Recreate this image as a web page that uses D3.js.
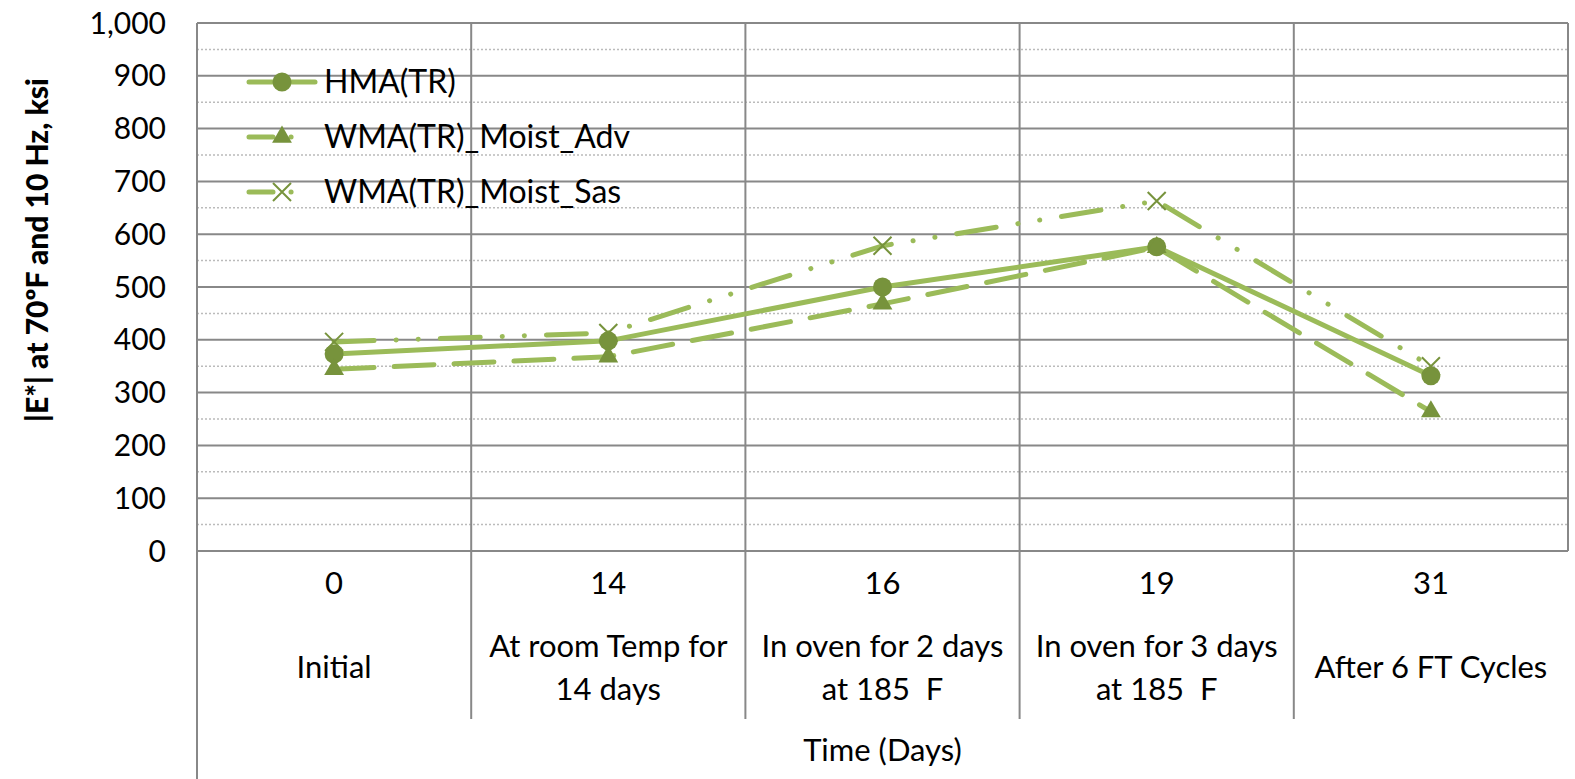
<!DOCTYPE html>
<html>
<head>
<meta charset="utf-8">
<script src="https://cdn.jsdelivr.net/npm/d3@7"></script>
<style>
  body { margin: 0; background: #fff; }
  text { font-family: Lato, "Open Sans", sans-serif; fill: #000; white-space: pre; }
</style>
</head>
<body>
<svg width="1575" height="779"></svg>
<script>
// data
var days = ["0", "14", "16", "19", "31"];
var stages = [["Initial"], ["At room Temp for", "14 days"], ["In oven for 2 days", "at 185  F"],
  ["In oven for 3 days", "at 185  F"], ["After 6 FT Cycles"]];
var hma = [373, 398, 500, 576, 332];
var adv = [344, 368, 468, 575, 264];
var sas = [396, 413, 578, 663, 350];
var seriesNames = ["HMA(TR)", "WMA(TR)_Moist_Adv", "WMA(TR)_Moist_Sas"];
var yTicks = d3.range(0, 1001, 100);

var svg = d3.select("svg"),
  width = +svg.attr("width"),
  height = +svg.attr("height");

var pLeft = 197, pRight = 1568, pTop = 23, pBottom = 551;
var lineCol = "#9bbb59", markCol = "#77933c", gridCol = "#888";

var x = d3.scaleBand().domain(d3.range(days.length)).range([pLeft, pRight]);
var y = d3.scaleLinear().domain([0, 1000]).range([pBottom, pTop]);

// minor dotted grid at the 50s
svg.append("g").selectAll("line")
  .data(d3.range(50, 1000, 100))
  .enter().append("line")
  .attr("x1", pLeft).attr("x2", pRight)
  .attr("y1", d => y(d)).attr("y2", d => y(d))
  .attr("stroke", "#bbb").attr("stroke-width", 1.5).attr("stroke-dasharray", "2,2");

// major grid
svg.append("g").selectAll("line")
  .data(yTicks)
  .enter().append("line")
  .attr("x1", pLeft).attr("x2", pRight)
  .attr("y1", d => y(d)).attr("y2", d => y(d))
  .attr("stroke", gridCol).attr("stroke-width", 2);

// vertical lines between categories (run down through the label table)
var bounds = d3.range(days.length + 1).map(i => pLeft + i * x.bandwidth());
svg.append("g").selectAll("line")
  .data(bounds)
  .enter().append("line")
  .attr("x1", d => d).attr("x2", d => d)
  .attr("y1", pTop)
  .attr("y2", (d, i) => i == 0 ? height : (i == days.length ? pBottom : 719))
  .attr("stroke", gridCol).attr("stroke-width", 2);

// y axis labels
svg.append("g").selectAll("text")
  .data(yTicks)
  .enter().append("text")
  .attr("x", 166).attr("y", d => y(d))
  .attr("dy", "0.35em")
  .attr("text-anchor", "end")
  .style("font-size", "30px")
  .text(d => d3.format(",")(d));

svg.append("text")
  .attr("transform", "translate(48,250) rotate(-90)")
  .attr("text-anchor", "middle")
  .style("font-size", "30px").style("font-weight", "900")
  .text("|E*| at 70ºF and 10 Hz, ksi");

// category labels
var cat = svg.append("g").selectAll("g")
  .data(days)
  .enter().append("g")
  .attr("transform", (d, i) => "translate(" + (x(i) + x.bandwidth() / 2) + ",0)");
cat.append("text")
  .attr("y", 583).attr("dy", "0.35em")
  .attr("text-anchor", "middle").style("font-size", "31px")
  .text(d => d);
cat.each(function (d, i) {
  var lines = stages[i];
  var y0 = lines.length == 1 ? 667 : 646;
  d3.select(this).selectAll(".st").data(lines).enter().append("text")
    .attr("y", (t, j) => y0 + j * 43).attr("dy", "0.35em")
    .attr("text-anchor", "middle").style("font-size", "31px")
    .text(t => t);
});
svg.append("text")
  .attr("x", (pLeft + pRight) / 2).attr("y", 750).attr("dy", "0.35em")
  .attr("text-anchor", "middle").style("font-size", "31px")
  .text("Time (Days)");

// series
var dashes = [null, "40,20", "40,22,0.1,22,0.1,22"];
var allSeries = [hma, adv, sas];
var line = d3.line().x((d, i) => x(i) + x.bandwidth() / 2).y(d => y(d));

allSeries.forEach(function (s, k) {
  svg.append("path")
    .datum(s)
    .attr("d", line)
    .attr("fill", "none")
    .attr("stroke", lineCol)
    .attr("stroke-width", 5)
    .attr("stroke-linecap", "round")
    .attr("stroke-dasharray", dashes[k]);
});

function marker(g, k, cx, cy) {
  if (k == 0) {
    g.append("circle").attr("cx", cx).attr("cy", cy).attr("r", 9.5).attr("fill", markCol);
  } else if (k == 1) {
    g.append("path").attr("d", d3.symbol(d3.symbolTriangle, 170)()).attr("transform", "translate(" + cx + "," + cy + ")").attr("fill", markCol);
  } else {
    g.append("path").attr("d", "M-9,-9L9,9M-9,9L9,-9").attr("transform", "translate(" + cx + "," + cy + ")")
      .attr("stroke", markCol).attr("stroke-width", 2).attr("fill", "none");
  }
}

allSeries.forEach(function (s, k) {
  var g = svg.append("g");
  s.forEach(function (v, i) { marker(g, k, x(i) + x.bandwidth() / 2, y(v)); });
});

// legend
var leg = svg.append("g");
seriesNames.forEach(function (n, k) {
  var ly = 82 + k * 55;
  leg.append("line").attr("x1", 249).attr("x2", 315).attr("y1", ly).attr("y2", ly)
    .attr("stroke", lineCol).attr("stroke-width", 5).attr("stroke-linecap", "round")
    .attr("stroke-dasharray", k == 0 ? null : "24,18,0.1,100");
  marker(leg, k, 282, ly);
  leg.append("text").attr("x", 324).attr("y", ly).attr("dy", "0.35em")
    .style("font-size", "32px").text(n);
});
</script>
</body>
</html>
